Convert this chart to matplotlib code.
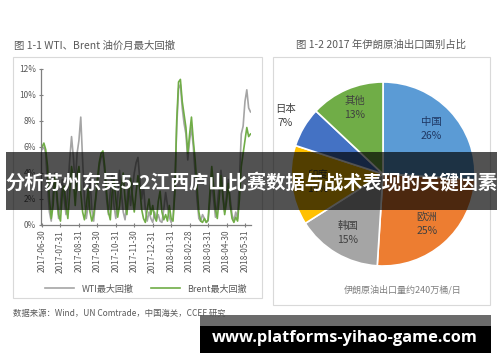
import numpy as np
import matplotlib
matplotlib.use("Agg")
import matplotlib.pyplot as plt
from matplotlib.patches import Rectangle

plt.rcParams['font.family'] = ['Noto Sans CJK SC', 'DejaVu Sans']

# ---- data ----
tick_labels = ["2017-06-30", "2017-07-31", "2017-08-31", "2017-09-30", "2017-10-31",
               "2017-11-30", "2017-12-31", "2018-01-31", "2018-02-28", "2018-03-31",
               "2018-04-30", "2018-05-31"]

# max drawdown in %, sampled every 0.1 month from 2017-06-30
wti = [5.8, 6.0, 5.5, 3.0, 1.0, 0.3, 2.5, 4.0, 2.0, 0.5,
       1.5, 3.5, 2.0, 0.8, 2.8, 5.0, 6.8, 5.2, 3.0, 5.5,
       6.5, 8.3, 5.0, 2.0, 0.5, 1.5, 3.5, 1.2, 0.3, 1.8,
       3.0, 4.5, 5.2, 5.4, 4.0, 2.0, 0.8, 2.5, 3.8, 1.5,
       0.5, 2.0, 4.2, 2.5, 1.0, 0.4, 1.8, 3.2, 1.5, 2.8,
       4.0, 4.8, 5.2, 3.5, 2.0, 3.0, 1.2, 0.3, 1.0, 0.5,
       0.2, 1.0, 0.4, 0.8, 0.3, 0.2, 1.2, 2.5, 1.5, 0.6,
       0.2, 0.5, 3.0, 7.5, 10.5, 10.8, 9.0, 7.8, 7.0, 5.0,
       6.5, 7.5, 6.0, 4.0, 2.0, 0.5, 0.3, 0.8, 0.5, 0.2,
       0.3, 1.8, 3.5, 2.0, 0.6, 1.5, 3.0, 4.2, 2.5, 1.0,
       2.2, 3.5, 2.0, 0.8, 0.3, 1.0, 0.5, 3.5, 7.0, 7.6,
       9.5, 10.4, 9.0, 8.7]
brent = [6.0, 6.3, 5.8, 4.5, 2.0, 0.5, 1.5, 3.8, 2.5, 0.8,
         0.3, 2.5, 3.0, 1.5, 0.5, 2.5, 4.5, 3.5, 1.5, 3.8,
         4.5, 2.5, 1.0, 0.4, 1.5, 2.8, 1.0, 0.3, 0.8, 2.0,
         3.5, 4.8, 5.5, 5.7, 4.5, 2.5, 1.0, 0.4, 2.5, 3.5,
         2.0, 0.6, 1.5, 3.0, 4.0, 2.0, 0.8, 2.5, 3.6, 2.2,
         1.0, 2.5, 3.8, 2.8, 1.2, 0.5, 0.2, 1.2, 2.0, 0.8,
         1.5, 0.6, 0.3, 1.8, 2.6, 1.0, 0.4, 0.8, 0.3, 1.5,
         0.5, 0.3, 2.5, 8.0, 11.0, 11.2, 9.5, 8.5, 7.5, 5.5,
         7.0, 8.3, 6.5, 5.0, 3.0, 1.0, 0.3, 0.2, 0.5, 0.2,
         0.4, 2.5, 4.5, 3.0, 1.2, 0.5, 2.0, 3.8, 2.2, 0.8,
         1.8, 3.2, 1.5, 0.5, 0.2, 0.6, 0.3, 2.0, 4.5, 5.5,
         6.5, 7.5, 6.8, 7.0]

countries = ["中国", "欧洲", "韩国", "印度", "日本", "其他"]
shares = [26, 25, 15, 14, 7, 13]
pie_colors = ["#5b9bd5", "#ed7d31", "#a5a5a5", "#ffc000", "#4472c4", "#70ad47"]
label_r = [0.72, 0.72, 0.75, 0.72, 1.23, 0.78]

W, H = 500, 362
fig = plt.figure(figsize=(W / 100, H / 100), dpi=100)
fig.patch.set_facecolor("white")


def px(x0, y0, w, h):
    # pixel box (top-left origin) -> figure fraction
    return [x0 / W, 1 - (y0 + h) / H, w / W, h / H]


grey = "#595959"

# ---- left: line chart ----
ax = fig.add_axes(px(41.1, 69, 209.4, 156))
x = np.arange(len(wti)) / 10.0
ax.plot(x, np.array(wti) / 100, color="#a5a5a5", lw=1.2, label="WTI最大回撤")
ax.plot(x, np.array(brent) / 100, color="#70ad47", lw=1.2, label="Brent最大回撤")
ax.set_xlim(-0.05, 11.3)
ax.set_ylim(0, 0.12)
ax.set_yticks(np.arange(0, 0.121, 0.02))
ax.set_yticklabels([f"{v}%" for v in range(0, 13, 2)])
ax.set_xticks(range(len(tick_labels)))
ax.set_xticklabels(tick_labels, rotation=90)
ax.tick_params(axis="both", colors="#7f7f7f", labelcolor=grey, labelsize=6,
               length=3, width=0.8, direction="inout", pad=2)
for s in ["top", "right"]:
    ax.spines[s].set_visible(False)
for s in ["left", "bottom"]:
    ax.spines[s].set_color("#7f7f7f")
    ax.spines[s].set_linewidth(0.9)
ax.legend(loc="center", bbox_to_anchor=(146 / W, 1 - 289 / H),
          bbox_transform=fig.transFigure, ncol=2, frameon=False,
          fontsize=6.5, handlelength=3.2, columnspacing=2.0, labelcolor=grey)

# ---- right: pie ----
pax = fig.add_axes(px(291, 82, 184, 184))
wedges, _ = pax.pie(shares, colors=pie_colors, startangle=90, counterclock=False,
                    wedgeprops=dict(edgecolor="white", linewidth=1.2))
pax.set_xlim(-1, 1)
pax.set_ylim(-1, 1)
pax.set_aspect("equal")
pax.axis("off")
for w, name, val, r in zip(wedges, countries, shares, label_r):
    ang = np.deg2rad((w.theta1 + w.theta2) / 2)
    col = "#1f3864" if name == "中国" else "#404040"
    pax.text(r * np.cos(ang), r * np.sin(ang), f"{name}\n{val}%", ha="center",
             va="center", fontsize=7.5, color=col, linespacing=1.5, clip_on=False)

# ---- overlay: frames, titles, banner, watermark ----
ov = fig.add_axes([0, 0, 1, 1], zorder=10)
ov.set_xlim(0, W)
ov.set_ylim(H, 0)
ov.axis("off")
ov.patch.set_alpha(0)
ov.add_patch(Rectangle((13, 57), 249, 241, fill=False, ec="#d9d9d9", lw=0.8))
ov.add_patch(Rectangle((273, 57), 217, 248, fill=False, ec="#d9d9d9", lw=0.8))
ov.text(14, 46, "图 1-1 WTI、Brent 油价月最大回撤", fontsize=7.5, color=grey, va="center")
ov.text(381, 45, "图 1-2 2017 年伊朗原油出口国别占比", fontsize=7.5, color=grey,
        va="center", ha="center")
ov.text(403, 290, "伊朗原油出口量约240万桶/日", fontsize=6.5, color="#7f7f7f",
        va="center", ha="center")
ov.text(13, 313, "数据来源：Wind，UN Comtrade，中国海关，CCEF 研究", fontsize=6,
        color=grey, va="center")

ov.add_patch(Rectangle((6, 152), 491, 58, color="black", alpha=0.68, lw=0))
ov.text(251, 182, "分析苏州东吴5-2江西庐山比赛数据与战术表现的关键因素", fontsize=13.9,
        color="white", fontweight="bold", ha="center", va="center")

ov.add_patch(Rectangle((200, 315), 291, 11, color="#6b6b6b", lw=0))
ov.add_patch(Rectangle((200, 326), 291, 27, color="black", lw=0))
ov.text(345, 338, "www.platforms-yihao-game.com", fontsize=11.8, color="white",
        fontweight="bold", family=["Open Sans", "DejaVu Sans"], ha="center", va="center")

fig.savefig("out.png", dpi=100)
